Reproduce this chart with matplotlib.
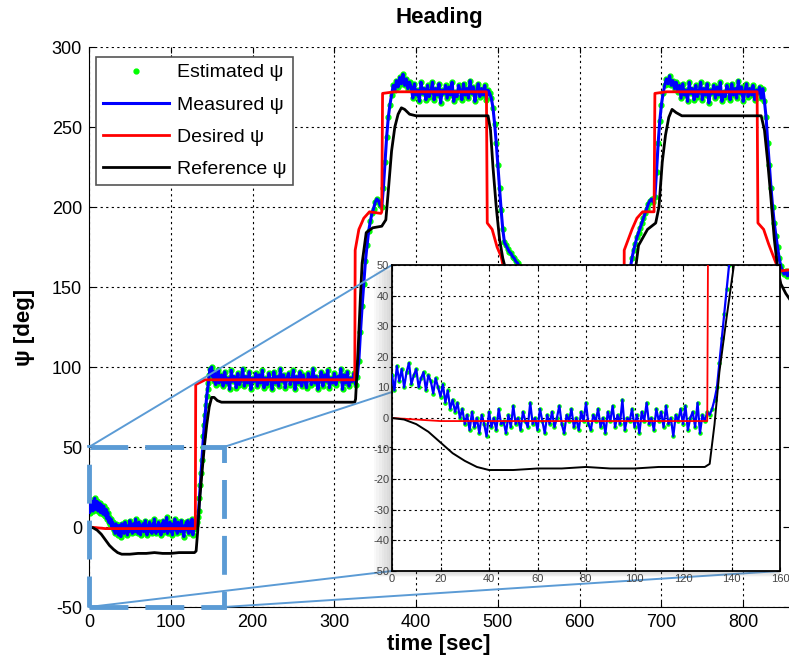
import matplotlib as mpl
mpl.use('Agg')
import matplotlib.pyplot as plt
from matplotlib.patches import Rectangle, ConnectionPatch

plt.rcParams['font.family'] = ['Liberation Sans', 'DejaVu Sans']
plt.rcParams['axes.unicode_minus'] = False

# measured / estimated heading [deg], 1 s steps up to 160 s, then 2 s steps
meas_t = list(range(0, 161)) + list(range(162, 861, 2))
meas_psi = [
	14, 9, 17, 12, 16, 10, 15, 18, 11, 14,
	16, 10, 13, 15, 9, 14, 12, 8, 13, 10,
	7, 11, 5, 9, 3, 6, 2, 5, 0, 3,
	-2, 1, -4, 2, -3, 0, -5, 1, -2, -6,
	2, -3, 0, -4, 3, -2, -1, -5, 1, -3,
	4, -2, 0, -4, 2, -1, -3, 5, -2, 0,
	-4, 3, -1, -5, 1, -2, 2, -3, 0, 4,
	-2, -5, 1, -1, 3, -3, 0, -4, 2, -1,
	5, -2, -4, 1, -1, 3, -3, 0, -5, 2,
	-1, 4, -3, 1, -2, 6, -4, 0, -1, 3,
	-3, 1, -5, 2, -1, 5, -2, 0, -4, 3,
	-1, 2, -3, 4, -2, 0, -6, 1, -1, 3,
	-2, 4, -4, 0, 2, -3, 5, -5, 1, -1,
	2, 1, 3, 6, 10, 18, 26, 34, 42, 50,
	57, 64, 70, 76, 82, 86, 90, 95, 99, 96,
	100, 94, 97, 91, 96, 89, 95, 92, 98, 90,
	93,
	# 162 - 328
	95, 88, 97, 90, 93, 86, 98, 91, 94, 87,
	96, 89, 92, 99, 88, 94, 90, 97, 86, 93,
	91, 96, 88, 95, 90, 98, 87, 93, 89, 96,
	92, 86, 97, 90, 94, 88, 99, 91, 95, 87,
	93, 96, 89, 92, 98, 86, 94, 90, 97, 88,
	95, 91, 87, 96, 93, 89, 99, 90, 94, 86,
	92, 97, 88, 95, 91, 98, 87, 93, 90, 96,
	89, 94, 92, 99, 86, 95, 90, 97, 88, 93,
	91, 96, 89, 94,
	# 330 - 360
	104, 122, 138, 152, 166, 176, 185, 191, 196, 199,
	203, 205, 204, 201, 200, 212,
	# 362 - 392
	228, 244, 256, 264, 270, 276, 273, 279, 275, 281,
	277, 283, 276, 280, 274, 278,
	# 394 - 490
	275, 268, 277, 270, 273, 266, 278, 271, 274, 267,
	276, 269, 272, 278, 267, 274, 270, 277, 265, 273,
	271, 276, 268, 275, 270, 278, 266, 272, 269, 276,
	273, 267, 277, 270, 274, 268, 279, 271, 275, 266,
	272, 277, 269, 274, 270, 276, 267, 273, 271,
	# 492 - 540
	268, 262, 252, 240, 226, 212, 198, 186, 178, 176,
	174, 172, 171, 169, 168, 166, 165, 163, 160, 150,
	135, 120, 105, 96, 92,
	# 542 - 650
	95, 88, 97, 90, 93, 86, 98, 91, 94, 87,
	96, 89, 92, 99, 88, 94, 90, 97, 86, 93,
	91, 96, 88, 95, 90, 98, 87, 93, 89, 96,
	92, 86, 97, 90, 94, 88, 99, 91, 95, 87,
	93, 96, 89, 92, 98, 86, 94, 90, 97, 88,
	95, 91, 87, 96, 93,
	# 652 - 690
	100, 112, 128, 142, 154, 162, 168, 173, 177, 181,
	184, 187, 190, 193, 196, 199, 202, 204, 205, 203,
	# 692 - 720
	206, 222, 240, 254, 264, 271, 276, 280, 277, 282,
	276, 279, 274, 278, 272,
	# 722 - 824
	276, 268, 277, 270, 273, 266, 278, 271, 274, 267,
	276, 269, 272, 278, 267, 274, 270, 277, 265, 273,
	271, 276, 268, 275, 270, 278, 266, 272, 269, 276,
	273, 267, 277, 270, 274, 268, 279, 271, 275, 266,
	272, 277, 269, 274, 270, 276, 267, 273, 271, 275,
	268, 274,
	# 826 - 860
	266, 256, 240, 226, 212, 200, 190, 182, 175, 168,
	163, 160, 158, 160, 157, 159, 156, 158,
]

# desired heading
des_t = [0, 20, 130, 130.5, 142, 325, 325.5, 330, 336, 343, 357, 358, 359, 374, 486, 487,
	493, 499, 504, 512, 540, 654, 654.5, 664, 670, 677, 691, 692, 706, 817, 818,
	825, 831, 840, 846, 860]
des_psi = [0, -1, -1, 89, 92, 92, 173, 186, 193, 197, 196, 197, 271, 272, 272, 190,
	186, 175, 169, 150, 92, 92, 173, 186, 193, 197, 197, 271, 272, 272, 190,
	186, 177, 165, 160, 161]

# reference heading
ref_t = [0, 5, 10, 15, 20, 25, 30, 35, 40, 50, 60, 70, 80, 90, 100, 110, 120, 129,
	131, 133, 135, 138, 141, 144, 147, 150, 153, 157, 162, 200, 250, 325,
	326, 329, 332, 334, 339, 347, 358, 363, 366, 370, 374, 378, 382, 386, 392, 400, 488,
	491, 494, 498, 502, 506, 510, 540, 650,
	656, 660, 664, 668, 672, 683, 693, 697, 701, 705, 709, 713, 718, 725, 822,
	826, 830, 834, 838, 842, 846, 852, 860]
ref_psi = [0, -0.5, -2, -4.5, -8, -11.5, -14, -16, -17, -17, -16.5, -16.5, -16, -16.5, -16.5, -16, -16, -16,
	-15, -2, 15, 33, 50, 64, 75, 81, 81, 79, 78, 78, 78, 78,
	80, 110, 145, 165, 184, 187, 188, 192, 210, 235, 250, 258, 262, 261, 258, 257, 257,
	248, 225, 200, 180, 168, 160, 80, 78,
	80, 110, 140, 160, 176, 186, 190, 200, 228, 245, 256, 261, 259, 257, 257,
	248, 228, 205, 180, 162, 152, 146, 140]

W, H = 789, 670
fig = plt.figure(figsize=(W / 100, H / 100), dpi=100)
ax = fig.add_axes([89 / W, 1 - 607 / H, 700 / W, 560 / H])

ax.plot(meas_t, meas_psi, '.', color='#00ff00', ms=7, label='Estimated ψ', zorder=2)
ax.plot(meas_t, meas_psi, '-', color='#0000ff', lw=2.2, label='Measured ψ', zorder=3)
ax.plot(des_t, des_psi, '-', color='#ff0000', lw=2, label='Desired ψ', zorder=4)
ax.plot(ref_t, ref_psi, '-', color='black', lw=2, label='Reference ψ', zorder=5)

ax.set_xlim(0, 856)
ax.set_ylim(-50, 300)
ax.set_xticks(range(0, 801, 100))
ax.set_yticks(range(-50, 301, 50))
ax.grid(True, color='black', linestyle=(0, (2, 3)), lw=0.8)
ax.tick_params(direction='in', top=True, right=True, labelsize=13, length=4, pad=5)
ax.spines['top'].set_visible(False)
ax.spines['right'].set_visible(False)
ax.set_title('Heading', fontsize=16, fontweight='bold', pad=17)
ax.set_xlabel('time [sec]', fontsize=16, fontweight='bold', labelpad=2)
ax.set_ylabel('ψ [deg]', fontsize=16, fontweight='bold', labelpad=12)

leg = ax.legend(loc='upper left', fontsize=14, handlelength=3.4, handletextpad=0.4,
	labelspacing=0.75, markerscale=1.0, fancybox=False, framealpha=1, edgecolor='#555555',
	borderpad=0.35, borderaxespad=0, bbox_to_anchor=(0.01, 0.982))
leg.get_frame().set_linewidth(1.2)
leg.set_zorder(10)

# zoom box on the main axes
box_c = '#5b9bd5'
ax.add_patch(Rectangle((0, -50), 165, 100, fill=False, edgecolor=box_c, lw=3.5,
	linestyle=(0, (8, 3.5)), clip_on=False, zorder=6))

ins_l, ins_b, ins_w, ins_h = 392, 670 - 571, 388, 306

# soft shadow left of / under the inset
for k in range(1, 8):
	fig.add_artist(Rectangle(((ins_l - 2.6 * k) / W, (ins_b - 0.9 * k) / H),
		(ins_w + 2.6 * k) / W, ins_h / H, transform=fig.transFigure,
		facecolor='#777777', edgecolor='none', alpha=0.045, zorder=2))

ins = fig.add_axes([ins_l / W, ins_b / H, ins_w / W, ins_h / H], zorder=3)
ins.plot(meas_t, meas_psi, '.', color='#00ff00', ms=4.5, zorder=2)
ins.plot(meas_t, meas_psi, '-', color='#0000ff', lw=1.6, zorder=3)
ins.plot(des_t, des_psi, '-', color='#ff0000', lw=1.3, zorder=4)
ins.plot(ref_t, ref_psi, '-', color='black', lw=1.4, zorder=5)
ins.set_xlim(0, 160)
ins.set_ylim(-50, 50)
ins.set_xticks(range(0, 161, 20))
ins.set_yticks(range(-50, 51, 10))
ins.grid(True, color='black', linestyle=(0, (2, 3)), lw=0.8)
ins.tick_params(direction='in', top=True, right=True, labelsize=8, length=3,
	labelcolor='#444444', pad=2)
for s in ins.spines.values():
	s.set_linewidth(1.3)

# lines from the zoom box to the inset corners
for xa, ya, xb, yb in [(0, 50, 0, 50), (165, 50, 160, 50), (0, -50, 0, -50), (165, -50, 160, -50)]:
	cp = ConnectionPatch((xa, ya), (xb, yb), coordsA=ax.transData, coordsB=ins.transData,
		color=box_c, lw=1.4, zorder=1)
	fig.add_artist(cp)

plt.savefig('out.png', dpi=100)
